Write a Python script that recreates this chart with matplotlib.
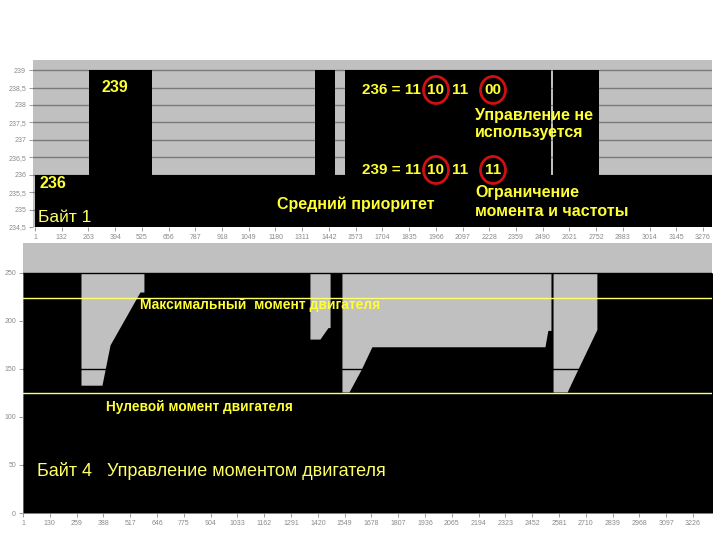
import numpy as np
import matplotlib
matplotlib.use("Agg")
import matplotlib.pyplot as plt
from matplotlib.patches import Ellipse

plt.rcParams["font.family"] = ["Liberation Sans", "DejaVu Sans"]

# ----------------------------
# Data
# ----------------------------
# Byte 1: step signal, value holds from edge[i] to edge[i+1]
byte1_edges = [1, 266, 575, 1374, 1471, 1521, 2531, 2540, 2766, 3320]
byte1_levels = [236, 239, 236, 239, 236, 239, 236, 239, 236]
byte1_ticks = [1 + 131 * k for k in range(26)]
byte1_yticks = [234.5, 235, 235.5, 236, 236.5, 237, 237.5, 238, 238.5, 239]

# Byte 4: torque control (duplicate x = vertical jump)
byte4_x = [1, 280, 280, 381, 420, 564, 583, 583, 1382, 1382, 1430, 1469, 1479,
           1479, 1536, 1536, 1570, 1630, 1680, 2513, 2527, 2542, 2542, 2552,
           2552, 2620, 2648, 2763, 2763, 3320]
byte4_v = [250, 250, 133, 133, 175, 230, 230, 250, 250, 181, 181, 193, 193,
           250, 250, 126, 126, 150, 173, 173, 190, 190, 250, 250,
           126, 126, 139, 191, 250, 250]
byte4_ticks = [1 + 129 * k for k in range(26)]
byte4_yticks = [0, 50, 100, 150, 200, 250]
max_torque = 224
zero_torque = 125

GRAY = "#c0c0c0"
YEL = "#ffff33"
YEL2 = "#ffff66"
RED = "#d01010"
TICKC = "#8a8a8a"

fig = plt.figure(figsize=(7.2, 5.4), dpi=100)
fig.patch.set_facecolor("white")


def px(x, y):
    return x / 720, 1 - y / 540


def style_ticks(ax):
    for s in ax.spines.values():
        s.set_visible(False)
    ax.tick_params(axis="both", labelsize=5, colors=TICKC, length=3, width=0.6, pad=2)


# ----------------------------
# Top panel: Байт 1
# ----------------------------
ax1 = fig.add_axes([33 / 720, 1 - 227 / 540, 679 / 720, 167 / 540])
ax1.set_facecolor(GRAY)
ax1.set_xlim(-8.8, 3320)
ax1.set_ylim(234.5, 239.29)
for yv in byte1_yticks:
    ax1.axhline(yv, color="#7a7a7a", lw=1.0, zorder=0.5)
ax1.fill_between(byte1_edges, byte1_levels + [byte1_levels[-1]], 234.5,
                 step="post", color="black", lw=0, zorder=1)
ax1.set_xticks(byte1_ticks)
ax1.set_xticklabels([str(t) for t in byte1_ticks])
ax1.set_yticks(byte1_yticks)
ax1.set_yticklabels([("%g" % v).replace(".", ",") for v in byte1_yticks])
style_ticks(ax1)

# ----------------------------
# Bottom panel: Байт 4
# ----------------------------
ax2 = fig.add_axes([23 / 720, 1 - 513 / 540, 689 / 720, 270 / 540])
ax2.set_facecolor(GRAY)
ax2.set_xlim(1, 3317)
ax2.set_ylim(0, 281)
for yv in [50, 150, 250]:
    ax2.axhline(yv, color="black", lw=1.0, zorder=0.5)
ax2.fill_between(byte4_x, byte4_v, 0, color="black", lw=0, zorder=1)
ax2.axhline(max_torque, color=YEL2, lw=1.0, zorder=2)
ax2.axhline(zero_torque, color=YEL2, lw=1.0, zorder=2)
ax2.set_xticks(byte4_ticks)
ax2.set_xticklabels([str(t) for t in byte4_ticks])
ax2.set_yticks(byte4_yticks)
style_ticks(ax2)

# ----------------------------
# Annotations
# ----------------------------
def ftext(x, y, s, size, bold=True, ha="left", color=YEL):
    fig.text(*px(x, y), s, fontsize=size, color=color, ha=ha, va="center",
             fontweight="bold" if bold else "normal")

ftext(102, 87, "239", 11.5)
ftext(39, 183, "236", 11.5)
ftext(38, 217, "Байт 1", 12.5, bold=False, color=YEL2)

for yy, lead, last in [(90, "236 = 11", "00"), (170, "239 = 11", "11")]:
    ftext(421, yy, lead, 11, ha="right")
    ftext(436, yy, "10", 11, ha="center")
    ftext(460, yy, "11", 11, ha="center")
    ftext(493, yy, last, 11, ha="center")
    for cx in (436, 493):
        fig.add_artist(Ellipse(px(cx, yy), 25 / 720, 27 / 540,
                               transform=fig.transFigure, fill=False,
                               edgecolor=RED, lw=2))

ftext(475, 115, "Управление не", 11.5)
ftext(475, 132, "используется", 11.5)
ftext(475, 192, "Ограничение", 11.5)
ftext(475, 212, "момента и частоты", 11.5)
ftext(277, 204, "Средний приоритет", 11.5)

ftext(140, 305, "Максимальный  момент двигателя", 10)
ftext(106, 407, "Нулевой момент двигателя", 9.8)
ftext(37, 471, "Байт 4   Управление моментом двигателя", 13, bold=False, color=YEL2)

plt.savefig("out.png", dpi=100)
